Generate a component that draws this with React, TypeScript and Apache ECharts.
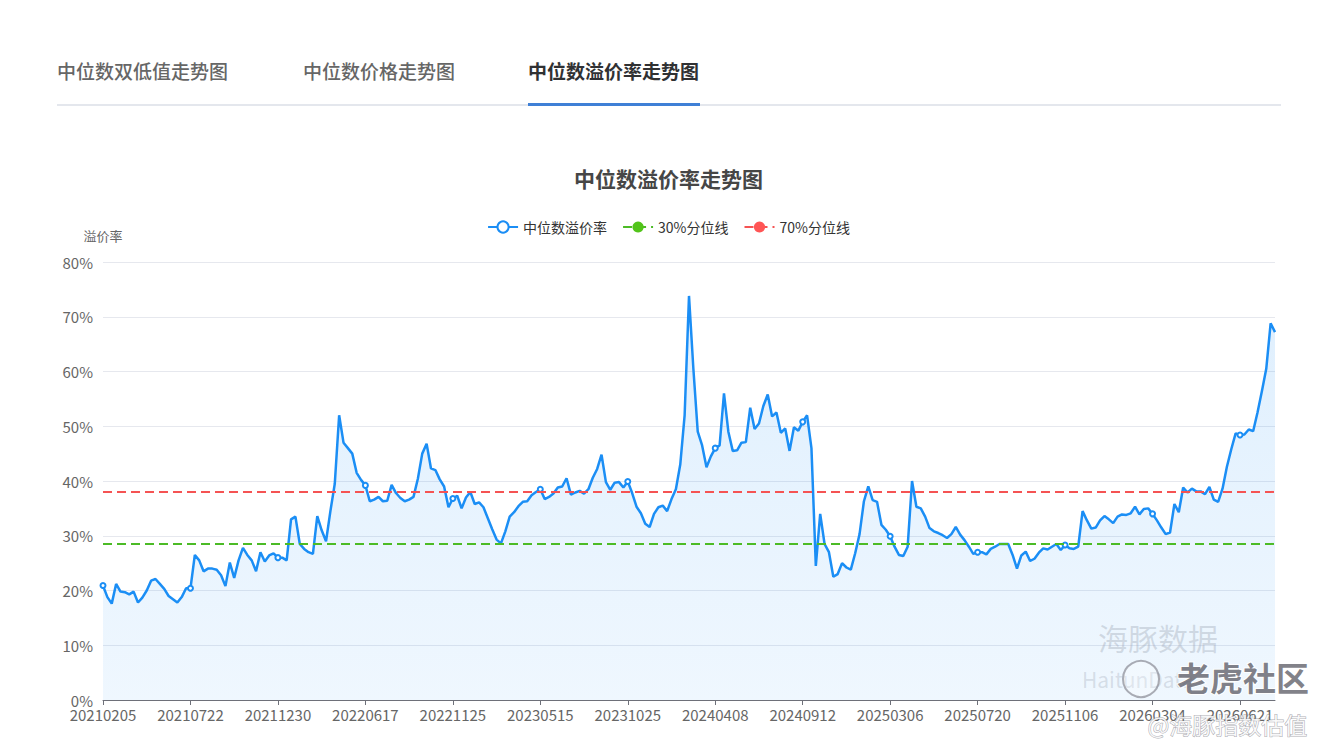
import React, { useEffect, useRef } from "react";
import * as echarts from "echarts";

const tickLabels = [
  "20210205", "20210722", "20211230", "20220617", "20221125", "20230515", "20231025",
  "20240408", "20240912", "20250306", "20250720", "20251106", "20260304", "20260621",
];
const pointsPerTick = 20;
const pointsAfterLast = 8;

const premium = [
  20.9, 18.8, 17.6, 21.2, 19.8, 19.7, 19.3, 19.8, 17.8, 18.7,
  20.0, 21.8, 22.1, 21.2, 20.3, 19.0, 18.4, 17.8, 18.8, 20.4,
  20.4, 26.5, 25.5, 23.5, 24.0, 24.0, 23.8, 22.8, 20.8, 25.1,
  22.3, 25.5, 27.8, 26.5, 25.5, 23.5, 27.0, 25.3, 26.4, 26.8,
  26.0, 26.0, 25.5, 33.0, 33.5, 28.5, 27.6, 27.0, 26.7, 33.6,
  31.0, 29.0, 34.5, 39.5, 52.0, 47.0, 46.0, 45.0, 41.5, 40.2,
  39.2, 36.3, 36.6, 37.1, 36.3, 36.4, 39.3, 37.8, 36.9, 36.3,
  36.6, 37.1, 40.4, 45.0, 46.8, 42.3, 42.0, 40.3, 39.0, 35.2,
  36.8, 37.3, 35.0, 37.0, 38.0, 35.8, 36.1, 35.2, 33.2, 31.2,
  29.3, 28.6, 30.8, 33.5, 34.3, 35.4, 36.2, 36.3, 37.4, 38.0,
  38.5, 36.7, 37.1, 37.7, 38.8, 39.0, 40.5, 37.5, 37.9, 38.2,
  37.7, 38.5, 40.6, 42.2, 44.8, 39.8, 38.4, 39.7, 39.8, 38.8,
  39.9, 37.8, 35.3, 34.1, 32.2, 31.6, 34.0, 35.2, 35.5, 34.5,
  36.7, 38.5, 43.0, 52.0, 73.8, 60.5, 49.0, 46.5, 42.5, 44.5,
  46.0, 46.5, 56.0, 49.0, 45.5, 45.6, 47.0, 47.1, 53.4, 49.5,
  50.5, 53.7, 55.8, 51.8, 52.5, 48.8, 49.6, 45.5, 49.8, 49.2,
  50.8, 52.0, 46.0, 24.5, 34.0, 28.5, 27.0, 22.5, 23.0, 25.0,
  24.2, 23.8, 26.8, 30.3, 36.3, 39.0, 36.5, 36.2, 32.0, 31.1,
  29.9, 28.0, 26.5, 26.3, 28.0, 40.0, 35.3, 35.0, 33.5, 31.4,
  30.8, 30.5, 30.1, 29.6, 30.3, 31.6, 30.2, 29.2, 28.0, 26.7,
  27.0, 27.0, 26.6, 27.6, 28.0, 28.5, 28.5, 28.5, 26.5, 24.0,
  26.4, 27.1, 25.4, 25.8, 26.9, 27.7, 27.5, 28.0, 28.5, 27.4,
  28.3, 27.7, 27.6, 28.0, 34.5, 32.8, 31.3, 31.5, 32.8, 33.6,
  33.0, 32.3, 33.5, 33.9, 33.8, 34.1, 35.3, 33.9, 34.9, 35.0,
  34.0, 32.8, 31.5, 30.3, 30.6, 35.8, 34.3, 38.8, 37.9, 38.6,
  38.1, 38.1, 37.6, 38.9, 36.6, 36.2, 38.6, 42.6, 45.8, 48.7,
  48.4, 48.5, 49.4, 49.1, 52.5, 56.4, 60.5, 68.8, 67.2,
];

const p30Value = 28.5;
const p70Value = 38.0;

const seriesNames = ["中位数溢价率", "30%分位线", "70%分位线"];
const tabLabels = ["中位数双低值走势图", "中位数价格走势图", "中位数溢价率走势图"];
const chartTitle = "中位数溢价率走势图";
const yAxisName = "溢价率";

function parseDate(s: string): number {
  return Date.UTC(+s.slice(0, 4), +s.slice(4, 6) - 1, +s.slice(6, 8));
}
function fmt(t: number): string {
  const d = new Date(t);
  const y = d.getUTCFullYear();
  const m = String(d.getUTCMonth() + 1).padStart(2, "0");
  const dd = String(d.getUTCDate()).padStart(2, "0");
  return `${y}${m}${dd}`;
}

function buildCategories(): string[] {
  const cats: string[] = [];
  const DAY = 86400000;
  for (let k = 0; k < tickLabels.length; k++) {
    cats.push(tickLabels[k]);
    const last = k + 1 >= tickLabels.length;
    const a = parseDate(tickLabels[k]);
    const b = !last ? parseDate(tickLabels[k + 1]) : a + (a - parseDate(tickLabels[k - 1]));
    const count = !last ? pointsPerTick - 1 : pointsAfterLast;
    for (let j = 1; j <= count; j++) {
      const t = a + Math.round(((b - a) / DAY) * (j / pointsPerTick)) * DAY;
      cats.push(fmt(t));
    }
  }
  return cats;
}

const FONT = "'Noto Sans CJK SC', 'Noto Sans', sans-serif";

export default function App() {
  const ref = useRef<HTMLDivElement>(null);

  useEffect(() => {
    if (!ref.current) return;
    const chart = echarts.init(ref.current, null, { renderer: "svg" });
    const categories = buildCategories().slice(0, premium.length);
    const firstCat = categories[0];
    const lastCat = categories[categories.length - 1];

    chart.setOption({
      animation: false,
      textStyle: { fontFamily: FONT },
      title: {
        text: chartTitle,
        left: "center",
        top: 162,
        textStyle: { fontSize: 21, fontWeight: "bold", color: "#464646", fontFamily: FONT },
      },
      legend: {
        top: 215,
        left: "center",
        itemWidth: 30,
        itemHeight: 14,
        itemGap: 15,
        textStyle: { fontSize: 14, color: "#333", fontFamily: FONT },
        data: seriesNames,
      },
      grid: { left: 103, right: 62, top: 262, bottom: 56 },
      xAxis: {
        type: "category",
        boundaryGap: false,
        data: categories,
        axisLine: { lineStyle: { color: "#6e7079" } },
        axisTick: { interval: pointsPerTick - 1, alignWithLabel: true, lineStyle: { color: "#6e7079" } },
        axisLabel: {
          interval: pointsPerTick - 1,
          fontSize: 15,
          color: "#666",
          margin: 7,
          fontFamily: FONT,
        },
      },
      yAxis: {
        type: "value",
        min: 0,
        max: 80,
        interval: 10,
        name: yAxisName,
        nameGap: 20,
        nameTextStyle: { fontSize: 13, color: "#666", fontFamily: FONT },
        axisLine: { show: false },
        axisTick: { show: false },
        axisLabel: { formatter: "{value}%", fontSize: 15, color: "#666", margin: 10, fontFamily: FONT },
        splitLine: { lineStyle: { color: "#e6e8ee" } },
      },
      series: [
        {
          name: seriesNames[0],
          type: "line",
          data: premium,
          symbol: "emptyCircle",
          symbolSize: 5,
          lineStyle: { color: "#1b8ef5", width: 2.5 },
          itemStyle: { color: "#1b8ef5" },
          areaStyle: {
            color: new echarts.graphic.LinearGradient(0, 0, 0, 1, [
              { offset: 0, color: "rgba(27,142,245,0.2)" },
              { offset: 1, color: "rgba(27,142,245,0.1)" },
            ]),
          },
          z: 3,
        },
        {
          name: seriesNames[1],
          type: "line",
          data: [[firstCat, p30Value], [lastCat, p30Value]],
          symbol: "circle",
          showSymbol: false,
          lineStyle: { color: "#4cbb26", width: 2, type: [9, 5] },
          itemStyle: { color: "#52c41a" },
          z: 4,
        },
        {
          name: seriesNames[2],
          type: "line",
          data: [[firstCat, p70Value], [lastCat, p70Value]],
          symbol: "circle",
          showSymbol: false,
          lineStyle: { color: "#f55353", width: 2, type: [9, 5] },
          itemStyle: { color: "#ff5555" },
          z: 4,
        },
      ],
      graphic: [
        {
          type: "text", left: 57, top: 61,
          style: { text: tabLabels[0], fontSize: 19, fill: "#666", fontFamily: FONT, fontWeight: 500 },
        },
        {
          type: "text", left: 303, top: 61,
          style: { text: tabLabels[1], fontSize: 19, fill: "#666", fontFamily: FONT, fontWeight: 500 },
        },
        {
          type: "text", left: 528, top: 61,
          style: { text: tabLabels[2], fontSize: 19, fill: "#303133", fontFamily: FONT, fontWeight: "bold" },
        },
        {
          type: "rect", shape: { x: 57, y: 104, width: 1224, height: 2 },
          style: { fill: "#e4e7ed" },
        },
        {
          type: "rect", shape: { x: 528, y: 103, width: 172, height: 3 },
          style: { fill: "#3f80d6" },
        },
        {
          type: "text", left: 1098, top: 622,
          style: { text: "海豚数据", fontSize: 30, fill: "rgba(150,160,175,0.35)", fontFamily: FONT },
          z: 10,
        },
        {
          type: "text", left: 1082, top: 668,
          style: { text: "HaitunData", fontSize: 21, fill: "rgba(150,160,175,0.3)", fontFamily: FONT },
          z: 10,
        },
        {
          type: "circle", shape: { cx: 1141, cy: 679, r: 18 },
          style: { fill: "rgba(255,255,255,0.25)", stroke: "rgba(120,120,130,0.6)", lineWidth: 2 },
          z: 11,
        },
        {
          type: "text", left: 1176, top: 659,
          style: {
            text: "老虎社区", fontSize: 33, fontWeight: "bold", fill: "rgba(95,95,105,0.78)",
            stroke: "rgba(255,255,255,0.9)", lineWidth: 2, fontFamily: FONT,
          },
          z: 11,
        },
        {
          type: "text", left: 1147, top: 712,
          style: {
            text: "@海豚指数估值", fontSize: 23, fill: "rgba(255,255,255,0.85)",
            stroke: "rgba(110,110,120,0.6)", lineWidth: 1, fontFamily: FONT,
          },
          z: 11,
        },
      ],
    });

    return () => chart.dispose();
  }, []);

  return (
    <div
      ref={ref}
      style={{ position: "fixed", left: 0, top: 0, width: 1337, height: 756, background: "#fff" }}
    />
  );
}
